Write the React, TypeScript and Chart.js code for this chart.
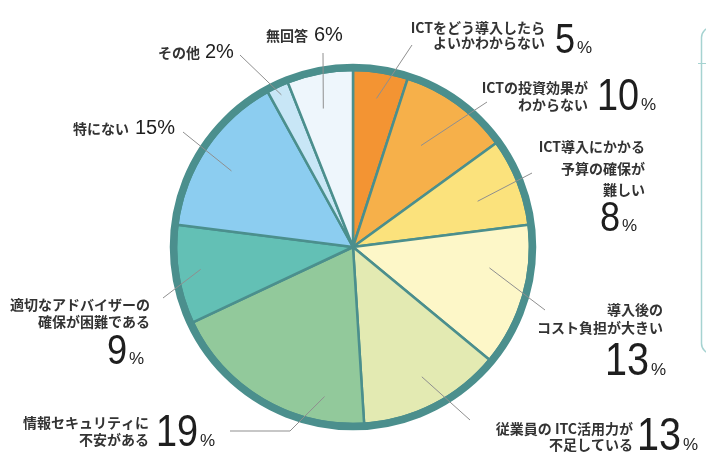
import React, { useEffect, useRef } from "react";
import { Chart, registerables } from "chart.js";

Chart.register(...registerables);

// ---- data ----
const categories = [
  "ICTをどう導入したら\nよいかわからない",
  "ICTの投資効果が\nわからない",
  "ICT導入にかかる\n予算の確保が\n難しい",
  "導入後の\nコスト負担が大きい",
  "従業員の ITC活用力が\n不足している",
  "情報セキュリティに\n不安がある",
  "適切なアドバイザーの\n確保が困難である",
  "特にない",
  "その他",
  "無回答",
];
const values = [5, 10, 8, 13, 13, 19, 9, 15, 2, 6];
const colors = [
  "#f39433",
  "#f6b04a",
  "#fbe27c",
  "#fdf7c8",
  "#e3eab2",
  "#92c99b",
  "#63c0b5",
  "#8ccdf0",
  "#c8e6f6",
  "#eef6fc",
];

// ---- annotation layout (positions of callout texts) ----
type Lay = {
  textRight: number;
  baselines: number[];
  numX: number;
  numBase: number;
  numSize: number;
  pctSize: number;
  frac: number;
  r: number;
  end: number[][];
};
const layout: Lay[] = [
  { textRight: 545, baselines: [33, 48], numX: 555, numBase: 53, numSize: 42, pctSize: 17, frac: 0.5, r: 0.85, end: [[412, 45]] },
  { textRight: 588, baselines: [93, 110], numX: 597, numBase: 110, numSize: 44, pctSize: 17, frac: 0.44, r: 0.69, end: [[487, 102]] },
  { textRight: 645, baselines: [152, 174, 195], numX: 600, numBase: 231, numSize: 42, pctSize: 17, frac: 0.55, r: 0.75, end: [[532, 173]] },
  { textRight: 663, baselines: [315, 333], numX: 605, numBase: 375, numSize: 46, pctSize: 17, frac: 0.34, r: 0.78, end: [[545, 310]] },
  { textRight: 633, baselines: [434, 450], numX: 637, numBase: 450, numSize: 46, pctSize: 17, frac: 0.48, r: 0.83, end: [[470, 420]] },
  { textRight: 149, baselines: [428, 445], numX: 156, numBase: 446, numSize: 44, pctSize: 17, frac: 0.21, r: 0.86, end: [[290, 431], [230, 431]] },
  { textRight: 150, baselines: [310, 327], numX: 107, numBase: 364, numSize: 42, pctSize: 17, frac: 0.52, r: 0.87, end: [[163, 298]] },
  { textRight: 129, baselines: [134], numX: 135, numBase: 134, numSize: 20, pctSize: 20, frac: 0.46, r: 0.81, end: [[183, 132]] },
  { textRight: 200, baselines: [58], numX: 205, numBase: 58, numSize: 20, pctSize: 20, frac: 0.5, r: 0.95, end: [[240, 55]] },
  { textRight: 308, baselines: [41], numX: 314, numBase: 41, numSize: 20, pctSize: 20, frac: 0.44, r: 0.8, end: [[323, 53]] },
];

const RING = "#4b8f8d";
const JP = '"Noto Sans CJK JP", "Noto Sans", sans-serif';
const NUM = '"Liberation Sans", Arial, sans-serif';

const annotPlugin = {
  id: "annot",
  afterDatasetsDraw(chart: any) {
    const ctx: CanvasRenderingContext2D = chart.ctx;
    const meta = chart.getDatasetMeta(0);
    const a0: any = meta.data[0];
    const cx = a0.x;
    const cy = a0.y;
    const R = a0.outerRadius;
    ctx.save();
    // outer thick ring
    ctx.beginPath();
    ctx.arc(cx, cy, R + 2.5, 0, Math.PI * 2);
    ctx.lineWidth = 7.5;
    ctx.strokeStyle = RING;
    ctx.stroke();

    // right box fragment
    ctx.beginPath();
    (ctx as any).roundRect(701.5, 27.5, 60, 326, 10);
    ctx.lineWidth = 1.5;
    ctx.strokeStyle = "#a6d3d1";
    ctx.stroke();
    ctx.beginPath();
    ctx.moveTo(698, 63.5);
    ctx.lineTo(706, 63.5);
    ctx.lineWidth = 1;
    ctx.stroke();

    // leader lines
    meta.data.forEach((arc: any, i: number) => {
      const L = layout[i];
      const ang = arc.startAngle + L.frac * (arc.endAngle - arc.startAngle);
      const r = L.r * R;
      ctx.beginPath();
      ctx.moveTo(cx + r * Math.cos(ang), cy + r * Math.sin(ang));
      L.end.forEach(([x, y]) => ctx.lineTo(x, y));
      ctx.lineWidth = 1;
      ctx.strokeStyle = "#8f8f8f";
      ctx.stroke();
    });

    // texts
    categories.forEach((cat, i) => {
      const L = layout[i];
      const lines = cat.split("\n");
      ctx.fillStyle = "#333333";
      ctx.textAlign = "right";
      ctx.textBaseline = "alphabetic";
      ctx.font = `bold 14px ${JP}`;
      lines.forEach((ln, j) => ctx.fillText(ln, L.textRight, L.baselines[j]));
      ctx.textAlign = "left";
      ctx.fillStyle = "#1e1e1e";
      const big = L.numSize !== L.pctSize;
      const sx = big ? 0.86 : 1;
      const num = String(values[i]);
      ctx.save();
      ctx.translate(L.numX, L.numBase);
      ctx.scale(sx, 1);
      ctx.font = `${L.numSize}px ${NUM}`;
      ctx.fillText(num, 0, 0);
      const w = ctx.measureText(num).width * sx;
      ctx.restore();
      ctx.font = `${L.pctSize}px ${NUM}`;
      ctx.fillText("%", L.numX + w + (big ? 2 : 0), L.numBase);
    });
    ctx.restore();
  },
};

export default function App() {
  const ref = useRef<HTMLCanvasElement>(null);
  useEffect(() => {
    if (!ref.current) return;
    const chart = new Chart(ref.current, {
      type: "pie",
      data: {
        labels: categories,
        datasets: [
          {
            data: values,
            backgroundColor: colors,
            borderColor: RING,
            borderWidth: 2.5,
            radius: 177,
          } as any,
        ],
      },
      options: {
        responsive: false,
        animation: false,
        devicePixelRatio: 1,
        layout: { padding: { top: 42, bottom: 0, left: 0, right: 0 } },
        plugins: {
          legend: { display: false },
          tooltip: { enabled: false },
        },
      },
      plugins: [annotPlugin],
    });
    return () => chart.destroy();
  }, []);
  return (
    <div style={{ position: "fixed", left: 0, top: 0, width: 706, height: 452, background: "#fff" }}>
      <canvas ref={ref} width={706} height={452} style={{ display: "block" }} />
    </div>
  );
}
